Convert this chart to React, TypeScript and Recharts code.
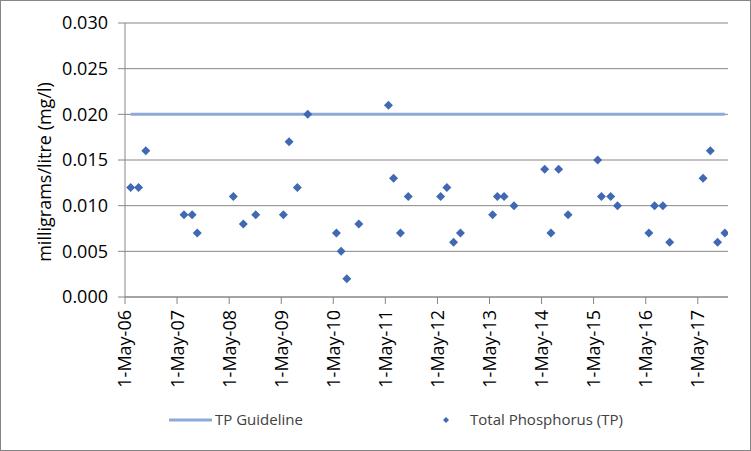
import React from 'react';
import { ComposedChart, Line, Scatter, XAxis, YAxis, CartesianGrid, Legend } from 'recharts';

const day = (y: number, m: number, d: number) => Date.UTC(y, m - 1, d);

// sample dates and Total Phosphorus readings (mg/l)
const sampleDates = [
  day(2006, 6, 10), day(2006, 8, 4), day(2006, 9, 24),
  day(2007, 6, 19), day(2007, 8, 15), day(2007, 9, 20),
  day(2008, 5, 30), day(2008, 8, 8), day(2008, 11, 3),
  day(2009, 5, 16), day(2009, 6, 25), day(2009, 8, 22), day(2009, 11, 3),
  day(2010, 5, 23), day(2010, 6, 25), day(2010, 8, 4), day(2010, 10, 27),
  day(2011, 5, 23), day(2011, 6, 28), day(2011, 8, 15), day(2011, 10, 9),
  day(2012, 5, 23), day(2012, 7, 6), day(2012, 8, 22), day(2012, 10, 9),
  day(2013, 5, 23), day(2013, 6, 25), day(2013, 8, 11), day(2013, 10, 20),
  day(2014, 5, 23), day(2014, 7, 6), day(2014, 8, 29), day(2014, 11, 3),
  day(2015, 5, 30), day(2015, 6, 25), day(2015, 8, 29), day(2015, 10, 16),
  day(2016, 5, 23), day(2016, 7, 2), day(2016, 8, 29), day(2016, 10, 16),
  day(2017, 6, 7), day(2017, 7, 28), day(2017, 9, 17), day(2017, 11, 7),
];

const tpValues = [
  0.012, 0.012, 0.016,
  0.009, 0.009, 0.007,
  0.011, 0.008, 0.009,
  0.009, 0.017, 0.012, 0.020,
  0.007, 0.005, 0.002, 0.008,
  0.021, 0.013, 0.007, 0.011,
  0.011, 0.012, 0.006, 0.007,
  0.009, 0.011, 0.011, 0.010,
  0.014, 0.007, 0.014, 0.009,
  0.015, 0.011, 0.011, 0.010,
  0.007, 0.010, 0.010, 0.006,
  0.013, 0.016, 0.006, 0.007,
];

const guidelineValue = 0.02;

const xTicks = [2006, 2007, 2008, 2009, 2010, 2011, 2012, 2013, 2014, 2015, 2016, 2017].map((y) => day(y, 5, 1));
const yTicks = [0, 0.005, 0.01, 0.015, 0.02, 0.025, 0.03];

const tpData = sampleDates.map((t, i) => ({ t, v: tpValues[i] }));
const guideData = [
  { t: sampleDates[0], v: guidelineValue },
  { t: sampleDates[sampleDates.length - 1], v: guidelineValue },
];

const FONT = '"Open Sans", sans-serif';
const GRID = '#868686';
const POINT = '#4169B3';
const GUIDE = '#8FA8DA';

const fmtDate = (t: number) => {
  const d = new Date(t);
  return `${d.getUTCDate()}-May-${String(d.getUTCFullYear()).slice(2)}`;
};

const XTick = (props: any) => {
  const { x, y, payload } = props;
  return (
    <text
      x={x}
      y={y}
      transform={`rotate(-90, ${x}, ${y})`}
      textAnchor="end"
      dy="0.36em"
      fontSize={18}
      fontFamily={FONT}
      fill="#000"
    >
      {fmtDate(payload.value)}
    </text>
  );
};

const Diamond = (props: any) => {
  const { cx, cy } = props;
  const r = 4.5;
  return <polygon points={`${cx},${cy - r} ${cx + r},${cy} ${cx},${cy + r} ${cx - r},${cy}`} fill={POINT} />;
};

const YTitle = () => (
  <text
    x={43}
    y={171}
    transform="rotate(-90, 43, 171)"
    textAnchor="middle"
    dominantBaseline="central"
    fontSize={18}
    fontFamily={FONT}
    fill="#000"
  >
    milligrams/litre (mg/l)
  </text>
);

const LegendBox = () => (
  <div style={{ position: 'relative', height: 30, width: 749, fontFamily: FONT, fontSize: 15, color: '#404040' }}>
    <svg width={749} height={30} style={{ position: 'absolute', left: 0, top: 0 }}>
      <line x1={168} x2={211} y1={16} y2={16} stroke={GUIDE} strokeWidth={3} />
      <polygon points="445,13 448,16 445,19 442,16" fill={POINT} />
    </svg>
    <span style={{ position: 'absolute', left: 214, top: 4, lineHeight: '22px' }}>TP Guideline</span>
    <span style={{ position: 'absolute', left: 469, top: 4, lineHeight: '22px' }}>Total Phosphorus (TP)</span>
  </div>
);

export default function App() {
  return (
    <div
      style={{
        position: 'absolute',
        left: 0,
        top: 0,
        width: 749,
        height: 449,
        border: `1px solid ${GRID}`,
        background: '#fff',
      }}
    >
      <ComposedChart width={749} height={449} margin={{ top: 22, right: 22, bottom: 16, left: 0 }}>
        <CartesianGrid vertical={false} stroke={GRID} />
        <XAxis
          dataKey="t"
          type="number"
          scale="time"
          domain={[day(2006, 5, 1), day(2017, 11, 29)]}
          ticks={xTicks}
          tick={<XTick />}
          tickSize={7}
          tickMargin={6}
          height={107}
          stroke={GRID}
          interval={0}
          allowDataOverflow
        />
        <YAxis
          type="number"
          domain={[0, 0.03]}
          ticks={yTicks}
          tickFormatter={(v: number) => v.toFixed(3)}
          width={124}
          tickSize={7}
          tickMargin={10}
          stroke={GRID}
          tick={{ fill: '#000', fontSize: 18, fontFamily: FONT }}
          label={<YTitle />}
        />
        <Legend verticalAlign="bottom" content={<LegendBox />} />
        <Line
          data={guideData}
          dataKey="v"
          name="TP Guideline"
          stroke={GUIDE}
          strokeWidth={3}
          dot={false}
          activeDot={false}
          isAnimationActive={false}
        />
        <Scatter
          data={tpData}
          dataKey="v"
          name="Total Phosphorus (TP)"
          fill={POINT}
          shape={<Diamond />}
          isAnimationActive={false}
        />
      </ComposedChart>
    </div>
  );
}
